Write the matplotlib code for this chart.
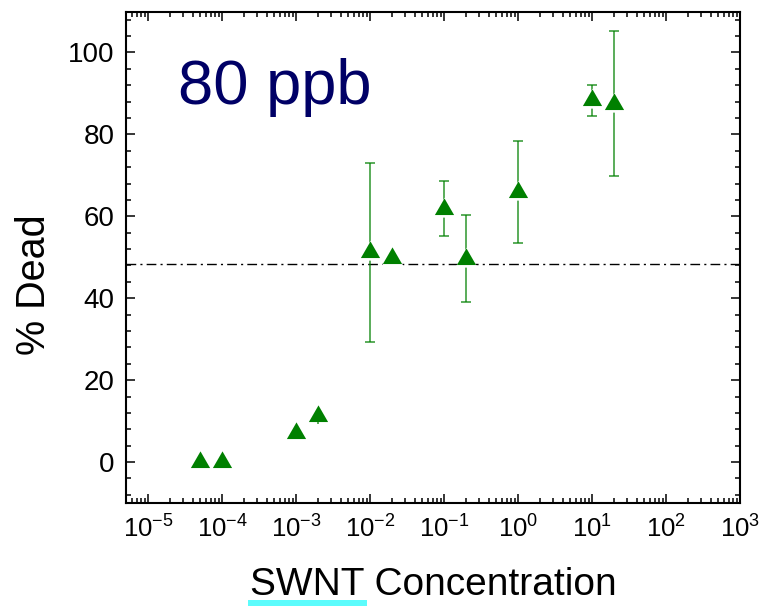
import numpy as np
import matplotlib
matplotlib.use("Agg")
import matplotlib.pyplot as plt
from matplotlib.path import Path
from matplotlib.ticker import FixedLocator, MultipleLocator, LogLocator, LogFormatterSciNotation, NullFormatter
from matplotlib.patches import Rectangle

# ---------------- data ----------------
conc = [5e-5, 1e-4, 1e-3, 2e-3, 1e-2, 2e-2, 1e-1, 2e-1, 1e0, 1e1, 2e1]
dead = [0.0, 0.0, 7.1, 11.2, 51.2, 49.8, 61.85, 49.6, 65.9, 88.3, 87.5]
dead_err_low = [0.0, 0.0, 0.0, 2.0, 21.9, 0.0, 6.75, 10.6, 12.4, 3.7, 17.7]
dead_err_high = [0.0, 0.0, 0.0, 0.0, 21.9, 0.0, 6.75, 10.6, 12.4, 3.7, 17.7]
threshold = 48.3
x_ticks = [1e-5, 1e-4, 1e-3, 1e-2, 1e-1, 1e0, 1e1, 1e2, 1e3]
y_ticks = [0, 20, 40, 60, 80, 100]
panel_label = "80 ppb"
x_label = "SWNT Concentration"
x_label_underlined = "SWNT"
y_label = "% Dead"

# ---------------- style ----------------
plt.rcParams["font.family"] = ["Liberation Sans", "DejaVu Sans"]
plt.rcParams["mathtext.fontset"] = "custom"
plt.rcParams["mathtext.rm"] = "Liberation Sans"
plt.rcParams["mathtext.it"] = "Liberation Sans:italic"
plt.rcParams["mathtext.bf"] = "Liberation Sans:bold"
plt.rcParams["axes.unicode_minus"] = False

W, H = 762, 606
fig = plt.figure(figsize=(W / 100, H / 100), dpi=100)
L, R, T, B = 125.7, 740.0, 11.5, 503.0
ax = fig.add_axes([L / W, 1 - B / H, (R - L) / W, (B - T) / H])

green = "#008000"

# triangle marker centred on its centroid (Origin style)
tri = Path([(0, 1.0), (-0.866, -0.5), (0.866, -0.5), (0, 1.0)],
           [Path.MOVETO, Path.LINETO, Path.LINETO, Path.CLOSEPOLY])
tri_mask = Path([(0, 1.0), (-0.95, -0.69), (0.95, -0.69), (0, 1.0)],
                [Path.MOVETO, Path.LINETO, Path.LINETO, Path.CLOSEPOLY])

ax.axhline(threshold, color="black", lw=1.0, ls=(0, (7, 3, 1.5, 3)), zorder=1)

# error bars: caps only where the bar reaches beyond the marker
yerr = np.array([dead_err_low, dead_err_high])
big = (np.array(dead_err_low) > 3) | (np.array(dead_err_high) > 3)
ax.errorbar(np.array(conc)[big], np.array(dead)[big], yerr=yerr[:, big], fmt="none",
            ecolor=green, alpha=0.7, elinewidth=1.3, capsize=3.6, capthick=1.3, zorder=2)
ax.plot(conc, dead, ls="none", marker=tri_mask, ms=17.0, color="white",
        markeredgewidth=0, zorder=3)
ax.errorbar(np.array(conc)[~big], np.array(dead)[~big], yerr=yerr[:, ~big], fmt="none",
            ecolor=green, alpha=0.7, elinewidth=1.3, capsize=0, zorder=3.5)
ax.plot(conc, dead, ls="none", marker=tri, ms=16.0, color=green,
        markeredgewidth=0, zorder=4)

ax.set_xscale("log")
ax.set_xlim(5e-6, 1e3)
ax.set_ylim(-10, 110)
ax.xaxis.set_major_locator(FixedLocator(x_ticks))
ax.xaxis.set_major_formatter(LogFormatterSciNotation())
ax.xaxis.set_minor_locator(LogLocator(base=10, subs=np.arange(2, 10), numticks=100))
ax.xaxis.set_minor_formatter(NullFormatter())
ax.yaxis.set_major_locator(FixedLocator(y_ticks))
ax.yaxis.set_minor_locator(MultipleLocator(4))

for s in ax.spines.values():
    s.set_linewidth(1.5)
ax.tick_params(which="both", direction="in", top=True, right=True, width=1.1,
               colors="black")
ax.tick_params(which="major", length=6.5)
ax.tick_params(which="minor", length=3.6)
ax.tick_params(axis="x", which="major", pad=9, labelsize=18.5)
ax.tick_params(axis="y", which="major", pad=8, labelsize=20)

ax.text((178 - L) / (R - L), (B - 104) / (B - T), panel_label, transform=ax.transAxes,
        fontsize=45.5, color="#000066", ha="left", va="baseline")

xl = fig.text(((L + R) / 2) / W, 1 - 595 / H, x_label, fontsize=28,
              ha="center", va="baseline")
fig.text(45 / W, 1 - 285 / H, y_label, fontsize=28.5, rotation=90,
         rotation_mode="anchor", ha="center", va="baseline")

# cyan underline under "SWNT"
fig.canvas.draw()
r = fig.canvas.get_renderer()
bb = xl.get_window_extent(r)
tmp = fig.text(0, 0, x_label_underlined, fontsize=28)
w = tmp.get_window_extent(r).width
tmp.remove()
fig.add_artist(Rectangle(((bb.x0 - 2) / W, 0.0), (w + 5) / W, 6 / H,
                         transform=fig.transFigure, color="#5CFCFC", lw=0))

fig.savefig("out.png", dpi=100)
